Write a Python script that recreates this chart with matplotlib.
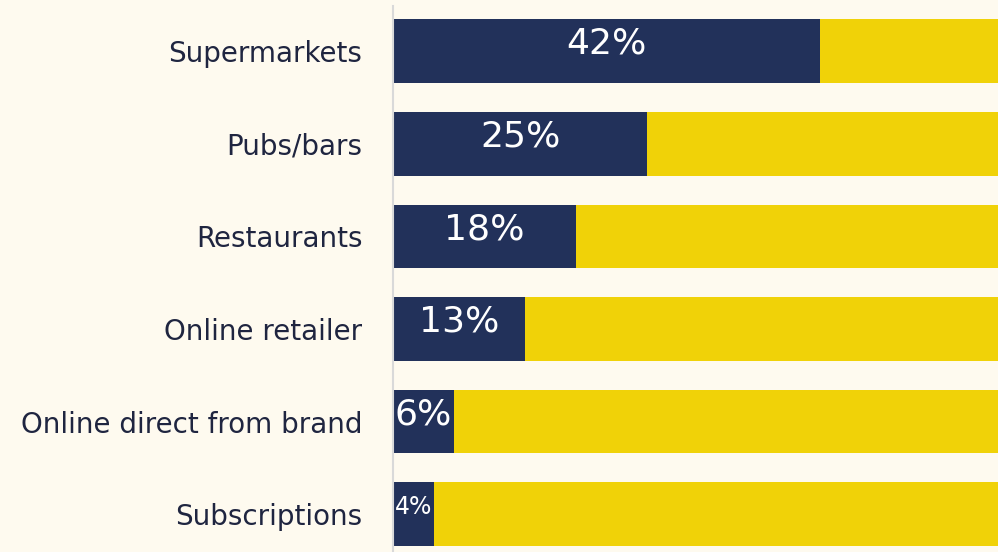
import matplotlib.pyplot as plt

# data
channels = ["Supermarkets", "Pubs/bars", "Restaurants", "Online retailer",
            "Online direct from brand", "Subscriptions"]
share = [42, 25, 18, 13, 6, 4]
total = [100, 100, 100, 100, 100, 100]

navy = "#22315a"
yellow = "#f0d208"
bg = "#fefaef"

fig = plt.figure(figsize=(9.98, 5.52), dpi=100, facecolor=bg)
ax = fig.add_axes([393 / 998, 0, 1 - 393 / 998, (552 - 6) / 552])
ax.set_facecolor(bg)

ypos = list(range(len(channels)))
rest = [t - s for t, s in zip(total, share)]
ax.barh(ypos, share, height=0.69, color=navy)
ax.barh(ypos, rest, left=share, height=0.69, color=yellow)

# percent labels inside the navy part
for y, v in zip(ypos, share):
    fs = 17 if v < 5 else 26
    ax.text(v / 2, y - 0.08, f"{v}%", ha="center", va="center",
            color="white", fontsize=fs, fontfamily="DejaVu Sans")

ax.set_xlim(0, 59.5)
ax.set_ylim(5.41, -0.49)
ax.set_yticks(ypos)
ax.set_yticklabels(channels, fontsize=20, color="#1f2540")
ax.tick_params(axis="y", length=0, pad=22)
ax.set_xticks([])
for side in ["top", "right", "bottom"]:
    ax.spines[side].set_visible(False)
ax.spines["left"].set_color("#d9d9d9")
ax.spines["left"].set_linewidth(1.5)

fig.savefig("out.png", dpi=100, facecolor=bg)
